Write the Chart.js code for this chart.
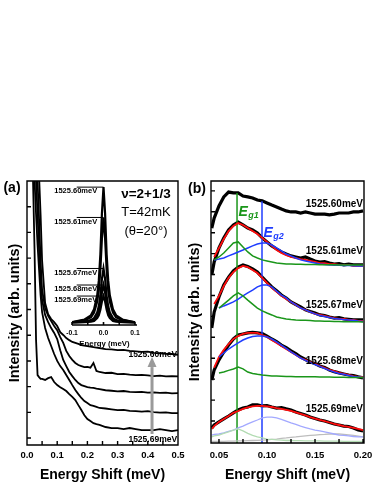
<!DOCTYPE html>
<html>
<head>
<meta charset="utf-8">
<script src="https://cdn.jsdelivr.net/npm/chart.js@4/dist/chart.umd.min.js"></script>
<style>
  body { margin: 0; background: #fff; width: 374px; height: 484px; position: relative; overflow: hidden; }
  canvas { position: absolute; }
</style>
</head>
<body>
<canvas id="chart-a" width="190" height="484" style="left:0;top:0"></canvas>
<canvas id="chart-inset" width="110" height="185" style="left:40px;top:170px"></canvas>
<canvas id="chart-b" width="189" height="484" style="left:185px;top:0"></canvas>
<script>
// --- Panel (a): energy shift (meV) and the five spectra, offset vertically ---
const shiftA = [0.015, 0.02, 0.025, 0.03, 0.035, 0.04, 0.045, 0.05,
  0.06, 0.07, 0.08, 0.09, 0.1, 0.11, 0.12, 0.13, 0.14, 0.15, 0.16, 0.17, 0.18, 0.19, 0.2, 0.21, 0.22, 0.23, 0.24,
  0.26, 0.28, 0.3, 0.32, 0.34, 0.36, 0.38, 0.4, 0.42, 0.44, 0.46, 0.48, 0.5];
const specA60 = [13.2, 12.8, 12.2, 11.6, 10.8, 10.2, 8.7, 6.9,
  5.25, 4.82, 4.63, 4.51, 4.36, 4.12, 4.01, 3.89, 3.81, 3.74, 3.70, 3.66, 3.62, 3.60, 3.58, 3.56, 3.54, 3.52, 3.50,
  3.46, 3.45, 3.42, 3.43, 3.39, 3.37, 3.35, 3.36, 3.31, 3.30, 3.28, 3.27, 3.24];
const specA61 = [13.0, 12.6, 12.0, 11.2, 10.0, 8.5, 6.9, 5.76,
  5.06, 4.75, 4.55, 4.36, 4.20, 3.93, 3.70, 3.39, 3.19, 3.04, 2.92, 2.84, 2.80, 2.76, 2.77, 2.74, 2.92, 2.61, 2.57,
  2.53, 2.54, 2.49, 2.50, 2.47, 2.45, 2.46, 2.44, 2.41, 2.43, 2.40, 2.41, 2.40];
const specA67 = [12.8, 12.2, 11.2, 10.0, 8.7, 7.3, 6.15, 5.37,
  4.79, 4.51, 4.28, 4.09, 3.85, 3.42, 3.04, 2.80, 2.57, 2.41, 2.26, 2.14, 2.06, 2.02, 1.98, 1.96, 1.95, 1.92, 1.90,
  1.86, 1.84, 1.82, 1.83, 1.80, 1.79, 1.80, 1.77, 1.78, 1.76, 1.77, 1.74, 1.75];
const specA68 = [12.4, 11.2, 10.0, 8.7, 7.5, 6.54, 5.56, 4.90,
  4.28, 3.89, 3.58, 3.27, 3.00, 2.80, 2.65, 2.45, 2.26, 2.06, 1.87, 1.71, 1.56, 1.44, 1.36, 1.28, 1.25, 1.21, 1.17,
  1.15, 1.12, 1.09, 1.10, 1.06, 1.05, 1.03, 1.05, 1.01, 0.99, 1.00, 0.97, 0.97];
const specA69 = [11.2, 10.0, 7.32, 3.81, 2.45, 2.37, 2.30, 2.30,
  2.26, 2.33, 2.37, 2.18, 2.06, 1.98, 1.91, 1.83, 1.71, 1.60, 1.48, 1.28, 1.09, 0.89, 0.74, 0.66, 0.58, 0.54, 0.51,
  0.43, 0.39, 0.39, 0.35, 0.39, 0.35, 0.31, 0.31, 0.31, 0.35, 0.31, 0.27, 0.31];
const ticksAx = [0, 0.05, 0.1, 0.15, 0.2, 0.25, 0.3, 0.35, 0.4, 0.45, 0.5];
const ticksAy = [0, 1, 2, 3, 4, 5, 6, 7, 8, 9];

// --- Inset: normalised emission lines vs energy (meV) ---
const insetEnergy = [-0.1, -0.06, -0.04, -0.03, -0.02, -0.015, -0.01, -0.005, 0, 0.005, 0.01, 0.015, 0.02, 0.03, 0.04, 0.06, 0.1];
const peak60 = [0.02, 0.04, 0.07, 0.115, 0.215, 0.32, 0.51, 0.81, 1.0, 0.81, 0.51, 0.32, 0.215, 0.115, 0.07, 0.04, 0.02];
const peak61 = [0.02, 0.035, 0.055, 0.09, 0.17, 0.25, 0.40, 0.63, 0.78, 0.63, 0.40, 0.25, 0.17, 0.09, 0.055, 0.035, 0.02];
const peak67 = [0.02, 0.025, 0.035, 0.05, 0.09, 0.135, 0.21, 0.335, 0.41, 0.335, 0.21, 0.135, 0.09, 0.05, 0.035, 0.025, 0.02];
const peak68 = [0.018, 0.022, 0.03, 0.04, 0.065, 0.095, 0.15, 0.235, 0.29, 0.235, 0.15, 0.095, 0.065, 0.04, 0.03, 0.022, 0.018];
const peak69 = [0.018, 0.02, 0.025, 0.03, 0.05, 0.07, 0.11, 0.17, 0.21, 0.17, 0.11, 0.07, 0.05, 0.03, 0.025, 0.02, 0.018];
const lineLabels = ['1525.60meV', '1525.61meV', '1525.67meV', '1525.68meV', '1525.69meV'];
const peakHeights = [1.0, 0.78, 0.41, 0.29, 0.21];
const ticksInset = [-0.1, -0.05, 0, 0.05, 0.1];

// --- Panel (b): data (black), fit (red), Eg1 (green) and Eg2 (blue) components ---
const shiftB = [0.0425, 0.045, 0.05, 0.055, 0.06, 0.065, 0.07, 0.075, 0.08, 0.085, 0.09, 0.095, 0.1, 0.105, 0.11,
  0.115, 0.12, 0.125, 0.13, 0.135, 0.14, 0.145, 0.15, 0.155, 0.16, 0.165, 0.17, 0.175, 0.18, 0.185, 0.19, 0.195, 0.2];
const data60 = [10.22, 10.70, 11.28, 11.71, 11.94, 11.90, 11.90, 11.75, 11.71, 11.66, 11.56, 11.52, 11.42, 11.32, 11.23,
  11.13, 11.04, 10.99, 10.99, 10.94, 10.99, 10.94, 10.89, 10.89, 10.89, 10.85, 10.89, 10.94, 10.94, 10.94, 10.99, 10.99, 11.04];
const data61 = [7.98, 8.60, 9.27, 9.75, 10.13, 10.37, 10.51, 10.37, 10.22, 10.13, 9.99, 9.75, 9.56, 9.37, 9.22,
  9.08, 8.98, 8.89, 8.84, 8.79, 8.84, 8.74, 8.65, 8.60, 8.62, 8.55, 8.50, 8.52, 8.46, 8.50, 8.46, 8.46, 8.46];
const fit61 = [null, 8.84, 9.27, 9.70, 10.08, 10.32, 10.46, 10.37, 10.22, 10.08, 9.94, 9.75, 9.56, 9.37, 9.17,
  9.03, 8.93, 8.84, 8.79, 8.74, 8.70, 8.65, 8.60, 8.55, 8.55, 8.50, 8.50, 8.46, 8.46, 8.46, 8.41, 8.41, 8.41];
const eg1Comp61 = [null, 8.70, 8.84, 9.03, 9.27, 9.51, 9.56, 9.32, 9.08, 8.89, 8.79, 8.70, 8.65, 8.60, 8.55,
  8.53, 8.50, 8.50, 8.49, 8.49, 8.48, 8.48, 8.48, 8.47, 8.47, 8.47, 8.47, 8.46, 8.46, 8.46, 8.46, 8.46, 8.46];
const eg2Comp61 = [null, 8.70, 8.74, 8.79, 8.89, 8.98, 9.08, 9.17, 9.27, 9.37, 9.46, 9.51, 9.51, 9.41, 9.27,
  9.13, 8.98, 8.89, 8.79, 8.70, 8.65, 8.60, 8.55, 8.50, 8.48, 8.46, 8.45, 8.44, 8.43, 8.43, 8.42, 8.41, 8.41];
const data67 = [5.45, 6.21, 6.93, 7.50, 7.88, 8.17, 8.36, 8.46, 8.38, 8.27, 8.12, 7.88, 7.64, 7.41, 7.23,
  7.02, 6.88, 6.69, 6.57, 6.45, 6.31, 6.23, 6.16, 6.07, 6.04, 5.97, 5.92, 5.94, 5.88, 5.86, 5.83, 5.84, 5.83];
const fit67 = [null, 6.59, 6.98, 7.45, 7.84, 8.12, 8.31, 8.41, 8.36, 8.22, 8.07, 7.84, 7.60, 7.36, 7.17,
  6.98, 6.83, 6.69, 6.55, 6.40, 6.31, 6.21, 6.12, 6.07, 6.02, 5.97, 5.92, 5.88, 5.88, 5.83, 5.83, 5.78, 5.78];
const eg1Comp67 = [null, null, 6.40, 6.59, 6.78, 6.98, 7.12, 6.98, 6.78, 6.59, 6.40, 6.26, 6.16, 6.07, 5.97,
  5.92, 5.88, 5.85, 5.83, 5.82, 5.81, 5.80, 5.78, 5.78, 5.77, 5.77, 5.76, 5.76, 5.75, 5.75, 5.74, 5.74, 5.73];
const eg2Comp67 = [null, null, 6.40, 6.50, 6.59, 6.69, 6.83, 6.98, 7.12, 7.26, 7.41, 7.50, 7.50, 7.41, 7.21,
  7.02, 6.88, 6.69, 6.55, 6.40, 6.31, 6.21, 6.12, 6.04, 6.00, 5.95, 5.90, 5.88, 5.85, 5.83, 5.81, 5.78, 5.76];
const data68 = [2.96, 3.44, 3.92, 4.30, 4.63, 4.92, 5.11, 5.16, 5.21, 5.24, 5.21, 5.18, 5.06, 4.92, 4.80,
  4.63, 4.51, 4.35, 4.22, 4.06, 3.94, 3.82, 3.75, 3.63, 3.56, 3.44, 3.36, 3.30, 3.25, 3.20, 3.17, 3.11, 3.06];
const fit68 = [null, 3.55, 4.06, 4.40, 4.68, 4.92, 5.06, 5.16, 5.21, 5.21, 5.21, 5.11, 5.02, 4.87, 4.73,
  4.59, 4.44, 4.30, 4.16, 4.01, 3.92, 3.82, 3.73, 3.63, 3.54, 3.44, 3.39, 3.30, 3.25, 3.20, 3.15, 3.11, 3.11];
const eg1Comp68 = [null, null, 3.30, 3.34, 3.42, 3.49, 3.58, 3.49, 3.34, 3.27, 3.23, 3.20, 3.18, 3.15, 3.15,
  3.14, 3.13, 3.13, 3.12, 3.12, 3.11, 3.11, 3.11, 3.10, 3.10, 3.10, 3.09, 3.09, 3.09, 3.08, 3.08, 3.08, 3.08];
const eg2Comp68 = [null, null, 4.06, 4.25, 4.44, 4.59, 4.73, 4.87, 4.97, 5.04, 5.06, 5.06, 5.02, 4.92, 4.78,
  4.63, 4.47, 4.30, 4.16, 4.01, 3.90, 3.80, 3.70, 3.61, 3.51, 3.42, 3.34, 3.27, 3.23, 3.18, 3.13, 3.11, 3.08];
const data69 = [0.67, 0.81, 0.96, 1.10, 1.24, 1.39, 1.53, 1.62, 1.67, 1.77, 1.77, 1.72, 1.74, 1.67, 1.62,
  1.64, 1.58, 1.53, 1.43, 1.36, 1.29, 1.19, 1.12, 1.05, 1.00, 0.93, 0.86, 0.81, 0.76, 0.74, 0.67, 0.57, 0.53];
const fit69 = [0.62, 0.76, 0.96, 1.10, 1.24, 1.39, 1.48, 1.58, 1.65, 1.70, 1.72, 1.72, 1.70, 1.67, 1.62,
  1.58, 1.53, 1.48, 1.41, 1.34, 1.27, 1.19, 1.12, 1.05, 1.00, 0.93, 0.86, 0.81, 0.76, 0.72, 0.67, 0.62, 0.57];
const eg1Comp69 = [0.24, 0.29, 0.33, 0.41, 0.48, 0.57, 0.62, 0.53, 0.41, 0.31, 0.24, 0.19, 0.14, 0.12, 0.10,
  0.09, 0.07, 0.07, 0.06, 0.06, 0.05, 0.05, 0.05, 0.05, 0.04, 0.04, 0.04, 0.04, 0.03, 0.03, 0.03, 0.03, 0.03];
const eg2Comp69 = [0.33, 0.36, 0.38, 0.43, 0.50, 0.57, 0.67, 0.76, 0.86, 0.96, 1.05, 1.15, 1.19, 1.19, 1.15,
  1.08, 1.00, 0.91, 0.84, 0.76, 0.69, 0.62, 0.57, 0.53, 0.48, 0.43, 0.38, 0.33, 0.31, 0.29, 0.26, 0.24, 0.24];
const bgComp69 = [0.03, 0.03, 0.03, 0.03, 0.04, 0.04, 0.05, 0.05, 0.06, 0.07, 0.08, 0.09, 0.10, 0.12, 0.14,
  0.17, 0.19, 0.22, 0.24, 0.27, 0.29, 0.31, 0.33, 0.35, 0.36, 0.38, 0.38, 0.38, 0.36, 0.34, 0.31, 0.28, 0.24];
const eg1Shift = 0.0688, eg1Top = 11.9;
const eg2Shift = 0.0948, eg2Top = 11.5;
const ticksBx = [0.05, 0.075, 0.1, 0.125, 0.15, 0.175, 0.2];
const ticksBy = [1, 2, 3, 4, 5, 6, 7, 8, 9, 10, 11, 12];

const FONT = '"Liberation Sans", Arial, Helvetica, sans-serif';
Chart.defaults.font.family = FONT;
Chart.defaults.color = '#000';

const GREEN = '#1a961a', BLUE = '#1f3dff', RED = '#ff0d0d';

function pts(xs, ys) {
  return xs.map((x, i) => ({ x, y: ys[i] })).filter(p => p.y !== null);
}
function curve(data, color, width, order) {
  return { data, borderColor: color, borderWidth: width, pointRadius: 0, fill: false, tension: 0, order };
}
function isMultiple(v, step) {
  return Math.abs(v / step - Math.round(v / step)) < 1e-6;
}

// frame box + inward tick marks
const framePlugin = {
  id: 'frame',
  afterDraw(chart, args, o) {
    const { ctx, chartArea: a } = chart;
    const sx = chart.scales.x, sy = chart.scales.y;
    ctx.save();
    ctx.strokeStyle = '#000';
    ctx.lineWidth = o.width;
    ctx.beginPath();
    if (o.box) ctx.rect(a.left, a.top, a.right - a.left, a.bottom - a.top);
    else { ctx.moveTo(a.left, a.bottom); ctx.lineTo(a.right, a.bottom); }
    sx.ticks.forEach(t => {
      const p = sx.getPixelForValue(t.value);
      ctx.moveTo(p, a.bottom); ctx.lineTo(p, a.bottom - o.tick);
    });
    if (o.yTicks) sy.ticks.forEach(t => {
      const p = sy.getPixelForValue(t.value);
      ctx.moveTo(a.left, p); ctx.lineTo(a.left + o.tick, p);
    });
    ctx.stroke();
    ctx.restore();
  }
};

// labels, arrows and short marker lines
const notesPlugin = {
  id: 'notes',
  afterDraw(chart, args, o) {
    const { ctx } = chart;
    const X = v => chart.scales.x.getPixelForValue(v);
    const Y = v => chart.scales.y.getPixelForValue(v);
    ctx.save();
    (o.segments || []).forEach(s => {
      ctx.strokeStyle = s.color; ctx.lineWidth = s.width;
      ctx.beginPath(); ctx.moveTo(X(s.x0), Y(s.y)); ctx.lineTo(X(s.x1), Y(s.y)); ctx.stroke();
    });
    (o.arrows || []).forEach(ar => {
      const x = X(ar.x), y0 = Y(ar.from), y1 = Y(ar.to);
      ctx.strokeStyle = ar.color; ctx.fillStyle = ar.color; ctx.lineWidth = ar.width;
      ctx.beginPath(); ctx.moveTo(x, y0); ctx.lineTo(x, y1 + ar.headLen); ctx.stroke();
      ctx.beginPath();
      ctx.moveTo(x, y1);
      ctx.lineTo(x - ar.headHalf, y1 + ar.headLen);
      ctx.lineTo(x + ar.headHalf, y1 + ar.headLen);
      ctx.closePath(); ctx.fill();
    });
    (o.texts || []).forEach(t => {
      const x = t.px ? t.px[0] : X(t.x) + (t.dx || 0);
      const y = t.px ? t.px[1] : Y(t.y) + (t.dy || 0);
      ctx.font = t.font; ctx.fillStyle = t.color || '#000';
      ctx.textAlign = t.align || 'left'; ctx.textBaseline = t.baseline || 'middle';
      ctx.fillText(t.text, x, y);
      if (t.sub) {
        const w = ctx.measureText(t.text).width;
        ctx.font = t.subFont; ctx.textAlign = 'left';
        ctx.fillText(t.sub, x + w + 0.5, y + 4);
      }
    });
    ctx.restore();
  }
};

const baseOptions = {
  responsive: false,
  animation: false,
  events: [],
};

// --- Panel (a) ---
new Chart(document.getElementById('chart-a'), {
  type: 'line',
  data: {
    datasets: [
      curve(pts(shiftA, specA60), '#000', 1.8, 1),
      curve(pts(shiftA, specA61), '#000', 1.8, 1),
      curve(pts(shiftA, specA67), '#000', 1.8, 1),
      curve(pts(shiftA, specA68), '#000', 1.8, 1),
      curve(pts(shiftA, specA69), '#000', 1.8, 1),
    ],
  },
  options: {
    ...baseOptions,
    layout: { padding: { top: 181, right: 12, left: 0, bottom: 0 } },
    plugins: {
      legend: { display: false },
      tooltip: { enabled: false },
      frame: { box: true, width: 1.4, tick: 4, yTicks: true },
      notes: {
        arrows: [{ x: 0.414, from: 0.16, to: 3.15, color: '#9a9a9a', width: 3, headLen: 10, headHalf: 4.5 }],
        texts: [
          { text: '1525.60meV', x: 0.497, y: 3.23, font: 'bold 8.5px ' + FONT, align: 'right' },
          { text: '1525.69meV', x: 0.497, y: -0.08, font: 'bold 8.5px ' + FONT, align: 'right' },
          { text: 'ν=2+1/3', x: 0.394, y: 9.49, font: 'bold 13.5px ' + FONT, align: 'center' },
          { text: 'T=42mK', x: 0.394, y: 8.79, font: '13px ' + FONT, align: 'center' },
          { text: '(θ=20°)', x: 0.394, y: 8.05, font: '13px ' + FONT, align: 'center' },
          { text: '(a)', px: [12, 188], font: 'bold 14px ' + FONT, align: 'center' },
        ],
      },
    },
    scales: {
      x: {
        type: 'linear', min: 0, max: 0.5,
        afterBuildTicks: s => { s.ticks = ticksAx.map(v => ({ value: v })); },
        afterFit: s => { s.height = 39; s.paddingLeft = 0; s.paddingRight = 0; },
        grid: { display: false, drawTicks: false }, border: { display: false },
        ticks: {
          autoSkip: false, maxRotation: 0, padding: 5,
          font: { size: 9.5, weight: 'bold' },
          callback: v => isMultiple(v, 0.1) ? v.toFixed(1) : '',
        },
        title: { display: true, text: 'Energy Shift (meV)', font: { size: 14, weight: 'bold' }, padding: 0 },
      },
      y: {
        type: 'linear', min: -0.27, max: 10,
        afterBuildTicks: s => { s.ticks = ticksAy.map(v => ({ value: v })); },
        afterFit: s => { s.width = 27; },
        grid: { display: false, drawTicks: false }, border: { display: false },
        ticks: { display: false },
        title: { display: true, text: 'Intensity (arb. units)', font: { size: 14.5, weight: 'bold' }, padding: { top: 6, bottom: 0 } },
      },
    },
  },
  plugins: [framePlugin, notesPlugin],
});

// --- Inset of panel (a) ---
new Chart(document.getElementById('chart-inset'), {
  type: 'line',
  data: {
    datasets: [peak60, peak61, peak67, peak68, peak69].map(p => curve(pts(insetEnergy, p), '#000', 2.2, 1)),
  },
  options: {
    ...baseOptions,
    layout: { padding: { top: 13, right: 13, left: 32, bottom: 0 } },
    plugins: {
      legend: { display: false },
      tooltip: { enabled: false },
      frame: { box: false, width: 1.6, tick: 3, yTicks: false },
      notes: {
        segments: peakHeights.map(h => ({ x0: -0.085, x1: 0, y: h, color: '#000', width: 1 })),
        texts: lineLabels.map((t, i) => ({
          text: t, x: -0.02, y: peakHeights[i], dy: 0.5, baseline: 'top', align: 'right', font: 'bold 7.5px ' + FONT,
        })),
      },
    },
    scales: {
      x: {
        type: 'linear', min: -0.1, max: 0.1063,
        afterBuildTicks: s => { s.ticks = ticksInset.map(v => ({ value: v })); },
        afterFit: s => { s.height = 30; s.paddingLeft = 0; s.paddingRight = 0; },
        grid: { display: false, drawTicks: false }, border: { display: false },
        ticks: {
          autoSkip: false, maxRotation: 0, padding: 4,
          font: { size: 6.8, weight: 'bold' },
          callback: v => isMultiple(v, 0.1) ? v.toFixed(1) : '',
        },
        title: { display: true, text: 'Energy (meV)', font: { size: 7.8, weight: 'bold' }, padding: { top: 0, bottom: 6 } },
      },
      y: { type: 'linear', display: false, min: 0, max: 1.03 },
    },
  },
  plugins: [framePlugin, notesPlugin],
});

// --- Panel (b) ---
const vline = (x, top, color) => curve([{ x, y: -0.05 }, { x, y: top }], color, 1.5, 4);
new Chart(document.getElementById('chart-b'), {
  type: 'line',
  data: {
    datasets: [
      curve(pts(shiftB, eg1Comp61), GREEN, 1.5, 1),
      curve(pts(shiftB, eg1Comp67), GREEN, 1.5, 1),
      curve(pts(shiftB, eg1Comp68), GREEN, 1.5, 1),
      curve(pts(shiftB, eg2Comp61), BLUE, 1.5, 1),
      curve(pts(shiftB, eg2Comp67), BLUE, 1.5, 1),
      curve(pts(shiftB, eg2Comp68), BLUE, 1.5, 1),
      curve(pts(shiftB, fit61), RED, 1.8, 2),
      curve(pts(shiftB, fit67), RED, 1.8, 2),
      curve(pts(shiftB, fit68), RED, 1.8, 2),
      curve(pts(shiftB, fit69), RED, 1.8, 2),
      curve(pts(shiftB, eg1Comp69), '#b3dcb3', 1.3, 3),
      curve(pts(shiftB, eg2Comp69), '#a3a9ff', 1.3, 3),
      curve(pts(shiftB, bgComp69), '#bdbdbd', 1.3, 3),
      vline(eg1Shift, eg1Top, GREEN),
      vline(eg2Shift, eg2Top, BLUE),
      curve(pts(shiftB, data60), '#000', 3.2, 5),
      curve(pts(shiftB, data61), '#000', 3.2, 5),
      curve(pts(shiftB, data67), '#000', 3.2, 5),
      curve(pts(shiftB, data68), '#000', 3.2, 5),
      curve(pts(shiftB, data69), '#000', 3.2, 5),
    ],
  },
  options: {
    ...baseOptions,
    layout: { padding: { top: 181, right: 10, left: 0, bottom: 0 } },
    plugins: {
      legend: { display: false },
      tooltip: { enabled: false },
      frame: { box: true, width: 1.4, tick: 4, yTicks: true },
      notes: {
        texts: [
          { text: '1525.60meV', x: 0.2, y: 11.37, font: 'bold 10px ' + FONT, align: 'right' },
          { text: '1525.61meV', x: 0.2, y: 9.13, font: 'bold 10px ' + FONT, align: 'right' },
          { text: '1525.67meV', x: 0.2, y: 6.55, font: 'bold 10px ' + FONT, align: 'right' },
          { text: '1525.68meV', x: 0.2, y: 3.87, font: 'bold 10px ' + FONT, align: 'right' },
          { text: '1525.69meV', x: 0.2, y: 1.58, font: 'bold 10px ' + FONT, align: 'right' },
          { text: 'E', sub: 'g1', x: eg1Shift, y: 10.99, dx: 1.5, color: GREEN, font: 'italic bold 14px ' + FONT, subFont: 'italic bold 9px ' + FONT },
          { text: 'E', sub: 'g2', x: eg2Shift, y: 9.99, dx: 1.5, color: BLUE, font: 'italic bold 14px ' + FONT, subFont: 'italic bold 9px ' + FONT },
          { text: '(b)', px: [12, 189], font: 'bold 14px ' + FONT, align: 'center' },
        ],
      },
    },
    scales: {
      x: {
        type: 'linear', min: 0.0417, max: 0.201,
        afterBuildTicks: s => { s.ticks = ticksBx.map(v => ({ value: v })); },
        afterFit: s => { s.height = 41; s.paddingLeft = 0; s.paddingRight = 0; },
        grid: { display: false, drawTicks: false }, border: { display: false },
        ticks: {
          autoSkip: false, maxRotation: 0, padding: 7,
          font: { size: 9.5, weight: 'bold' },
          callback: v => isMultiple(v, 0.05) ? v.toFixed(2) : '',
        },
        title: { display: true, text: 'Energy Shift (meV)', font: { size: 14, weight: 'bold' }, padding: 0 },
      },
      y: {
        type: 'linear', min: -0.05, max: 12.47,
        afterBuildTicks: s => { s.ticks = ticksBy.map(v => ({ value: v })); },
        afterFit: s => { s.width = 26; },
        grid: { display: false, drawTicks: false }, border: { display: false },
        ticks: { display: false },
        title: { display: true, text: 'Intensity (arb. units)', font: { size: 14.5, weight: 'bold' }, padding: { top: 1, bottom: 0 } },
      },
    },
  },
  plugins: [framePlugin, notesPlugin],
});
</script>
</body>
</html>
